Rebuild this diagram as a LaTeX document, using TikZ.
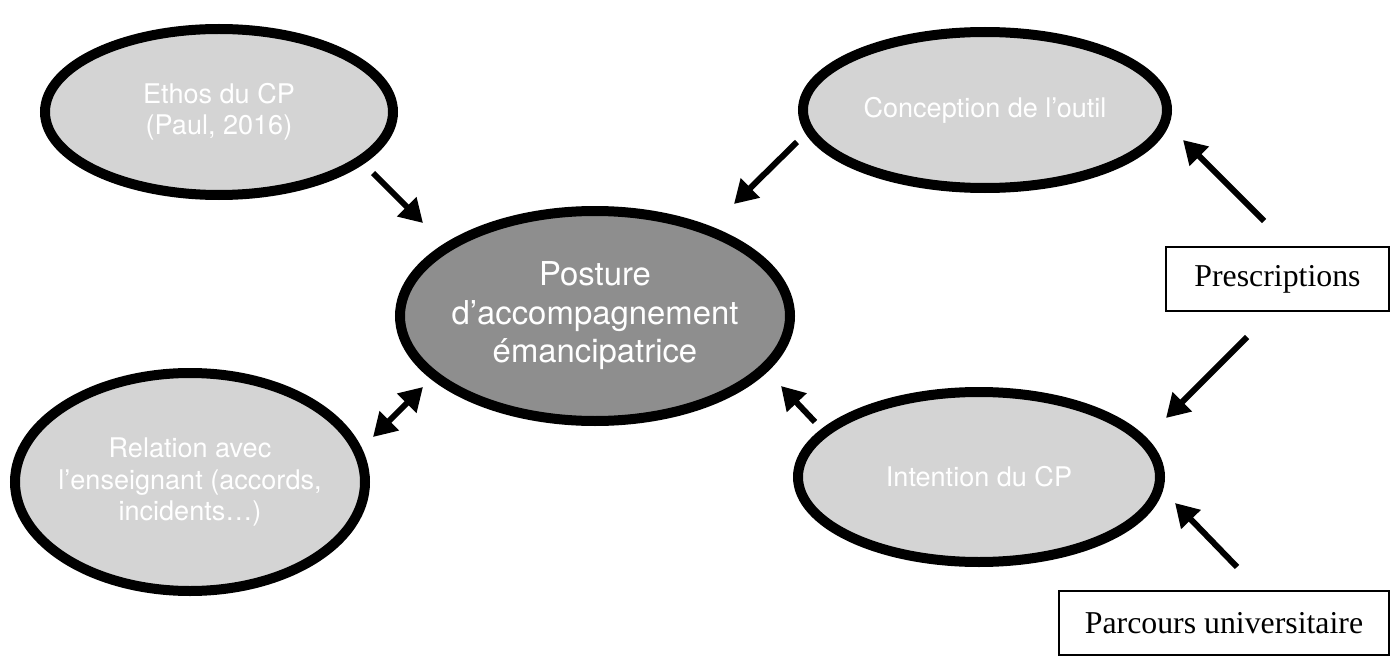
\documentclass[tikz,border=0pt]{standalone}
\usepackage{fontspec}
\setmainfont{Liberation Serif}
\newfontfamily\helv{TeX Gyre Heros}
\usetikzlibrary{shapes.geometric,arrows.meta}

\definecolor{lightgrey}{HTML}{D4D4D4}
\definecolor{darkgrey}{HTML}{8E8E8E}

\begin{document}
\begin{tikzpicture}[
  bubble/.style={ellipse, draw, line width=0.2cm, fill=lightgrey, text=white,
    inner xsep=-1cm, inner ysep=0pt, align=center,
    font=\helv\fontsize{15.4}{17.7}\selectfont},
  framebox/.style={draw, line width=1pt, minimum height=1.28cm,
    font=\fontsize{18.1}{21}\selectfont},
  arr/.style={line width=0.12cm},
  >={Triangle[length=0.46cm,width=0.52cm]},
]
  \useasboundingbox (0,0) rectangle (27.82,13.18);

  \node [bubble, minimum width=6.96cm, minimum height=3.32cm] (ethos) at (4.38,10.94) {Ethos du CP\\(Paul, 2016)};
  \node [bubble, minimum width=7.28cm, minimum height=3.12cm] (conception) at (19.70,10.98) {Conception de l’outil};
  \node [bubble, fill=darkgrey, minimum width=7.8cm, minimum height=4.2cm,
    font=\helv\fontsize{18.7}{21.9}\selectfont] (posture) at (11.90,6.86) {Posture\\d’accompagnement\\émancipatrice};
  \node [bubble, minimum width=7.0cm, minimum height=4.36cm] (relation) at (3.80,3.54) {Relation avec\\l’enseignant (accords,\\incidents…)};
  \node [bubble, minimum width=7.24cm, minimum height=3.4cm] (intention) at (19.58,3.64) {Intention du CP};

  \node [framebox, minimum width=4.46cm] (prescriptions) at (25.55,7.60) {Prescriptions};
  \node [framebox, minimum width=6.6cm] (parcours) at (24.48,0.72) {Parcours universitaire};

  % arrow ends
  \coordinate (et) at (7.46,9.72);
  \coordinate (eh) at (8.46,8.72);
  \coordinate (ct) at (15.94,10.34);
  \coordinate (ch) at (14.68,9.10);
  \coordinate (pct) at (25.28,8.76);
  \coordinate (pch) at (23.66,10.38);
  \coordinate (pit) at (24.94,6.44);
  \coordinate (pih) at (23.32,4.82);
  \coordinate (ut) at (24.74,1.84);
  \coordinate (uh) at (23.50,3.12);
  \coordinate (it) at (16.30,4.74);
  \coordinate (ih) at (15.62,5.46);
  \coordinate (ra) at (7.46,4.44);
  \coordinate (rb) at (8.46,5.44);

  \draw [arr, ->] (et) -- (eh);
  \draw [arr, ->] (ct) -- (ch);
  \draw [arr, ->] (pct) -- (pch);
  \draw [arr, ->] (pit) -- (pih);
  \draw [arr, ->] (ut) -- (uh);
  \draw [arr, ->] (it) -- (ih);
  \draw [arr, <->] (ra) -- (rb);
\end{tikzpicture}
\end{document}
